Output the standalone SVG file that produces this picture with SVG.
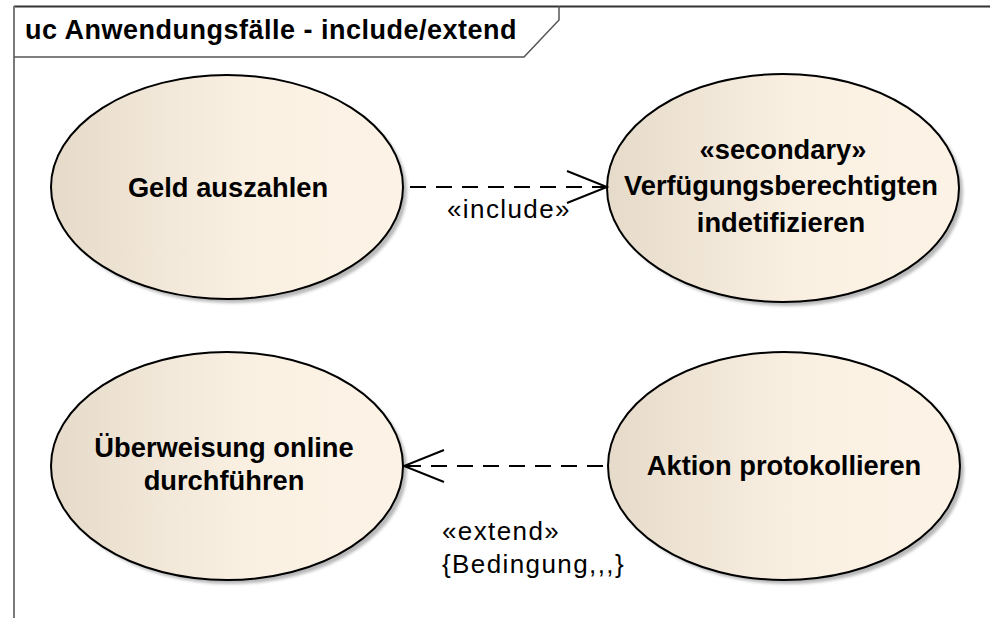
<svg xmlns="http://www.w3.org/2000/svg" width="990" height="618" viewBox="0 0 990 618">
<style>
.uc{stroke:#000;stroke-width:2;fill:url(#beige)}
.sh{fill:#b8b8b8;filter:url(#blur)}
.bt{font-family:"Liberation Sans",Arial,sans-serif;font-weight:bold;font-size:27.3px;fill:#000;text-anchor:middle}
.lt{font-family:"Liberation Sans",Arial,sans-serif;font-size:26px;fill:#000;letter-spacing:1.4px}
.dash{fill:none;stroke:#000;stroke-width:2;stroke-dasharray:16 10}
</style>
<defs>
<linearGradient id="beige" x1="0" y1="0" x2="1" y2="0">
<stop offset="0" stop-color="#e6dbca"/>
<stop offset="0.55" stop-color="#faf0e2"/>
<stop offset="1" stop-color="#fcf3e6"/>
</linearGradient>
<filter id="blur" x="-10%" y="-10%" width="120%" height="120%"><feGaussianBlur stdDeviation="1.5"/></filter>
<marker id="open" viewBox="0 0 44 36" refX="42" refY="18" markerWidth="44" markerHeight="36" markerUnits="userSpaceOnUse" orient="auto">
<path d="M2,2 L42,18 L2,34" fill="none" stroke="#000" stroke-width="2"/>
</marker>
</defs>
<rect width="990" height="618" fill="#fff"/>
<g id="frame">
<line x1="14" y1="6.5" x2="990" y2="6.5" stroke="#333" stroke-width="2"/>
<line x1="14" y1="6" x2="14" y2="618" stroke="#7a7a7a" stroke-width="2"/>
<path d="M14,57 H524 L559,20 V6" fill="none" stroke="#555" stroke-width="1.5"/>
<text x="25" y="39" font-family="Liberation Sans, Arial, sans-serif" font-weight="bold" font-size="27" letter-spacing="0.5" fill="#000">uc Anwendungsfälle - include/extend</text>
</g>
<g id="uc-geld">
<ellipse class="sh" cx="231" cy="191" rx="176" ry="112"/>
<ellipse class="uc" cx="227" cy="187" rx="176" ry="112"/>
<text class="bt" x="228" y="197">Geld auszahlen</text>
</g>
<g id="uc-verf">
<ellipse class="sh" cx="787" cy="192" rx="176" ry="114"/>
<ellipse class="uc" cx="783" cy="188" rx="176" ry="114"/>
<text class="bt" x="783" y="159">«secondary»</text>
<text class="bt" x="781" y="195">Verfügungsberechtigten</text>
<text class="bt" x="781" y="232">indetifizieren</text>
</g>
<g id="uc-ueberweisung">
<ellipse class="sh" cx="231" cy="470" rx="176" ry="114"/>
<ellipse class="uc" cx="227" cy="466" rx="176" ry="114"/>
<text class="bt" x="224" y="457">Überweisung online</text>
<text class="bt" x="224" y="490">durchführen</text>
</g>
<g id="uc-aktion">
<ellipse class="sh" cx="788" cy="470" rx="176" ry="114"/>
<ellipse class="uc" cx="784" cy="466" rx="176" ry="114"/>
<text class="bt" x="784" y="475">Aktion protokollieren</text>
</g>
<g id="connectors">
<path class="dash" d="M410,187 H607" marker-end="url(#open)"/>
<text class="lt" x="447" y="218">«include»</text>
<path class="dash" d="M603,466 H404" marker-end="url(#open)"/>
<text class="lt" x="442" y="540">«extend»</text>
<text class="lt" x="442" y="573">{Bedingung,,,}</text>
</g>
</svg>
